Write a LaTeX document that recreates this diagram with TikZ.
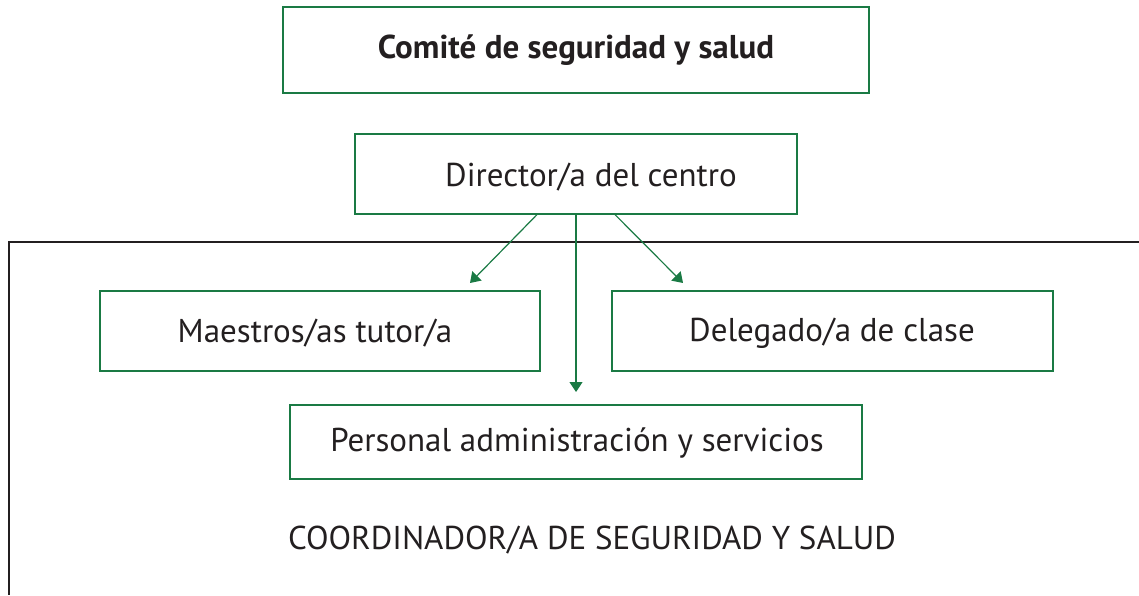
\documentclass[tikz,border=0pt]{standalone}
\usepackage{fontspec}
\setmainfont{PT Sans}
\usetikzlibrary{arrows.meta}
\definecolor{grn}{RGB}{26,122,68}
\definecolor{txt}{RGB}{35,31,32}
\begin{document}
\begin{tikzpicture}[x=1pt,y=-1pt,
  box/.style={draw=grn,line width=1.2pt,text=txt,inner sep=0pt},
  conn/.style={draw=grn,line width=1.2pt,-{Triangle[length=10pt,width=13pt]}},
  lbl/.style={text=txt,font=\fontsize{33}{38}\selectfont}]
\useasboundingbox (0,0) rectangle (1139,595);
\draw[line width=1.3pt,draw=txt] (1139,242) -- (9,242) -- (9,595);
\node[box,minimum width=586pt,minimum height=86pt,font=\bfseries\fontsize{33}{38}\selectfont] (com) at (576,50) {Comité de seguridad y salud};
\node[box,minimum width=442pt,minimum height=80pt] (dir) at (576,174) {};
\node[lbl] (dirt) at (591,177) {Director/a del centro};
\node[box,minimum width=440pt,minimum height=80pt] (mae) at (320,331) {};
\node[lbl] (maet) at (315,333) {Maestros/as tutor/a};
\node[box,minimum width=441pt,minimum height=80pt] (del) at (832.5,331) {};
\node[lbl] (delt) at (832,333) {Delegado/a de clase};
\node[box,minimum width=572pt,minimum height=74pt] (per) at (576,442) {};
\node[lbl] (pert) at (577,443) {Personal administración y servicios};
\node[lbl] (coord) at (592,540) {COORDINADOR/A DE SEGURIDAD Y SALUD};
\coordinate (a1) at (470,283);
\coordinate (a2) at (683,283);
\coordinate (a3) at (576,392);
\draw[conn] (dir.south -| 537,0) -- (a1);
\draw[conn] (dir.south) -- (a3);
\draw[conn] (dir.south -| 615,0) -- (a2);
\end{tikzpicture}
\end{document}
